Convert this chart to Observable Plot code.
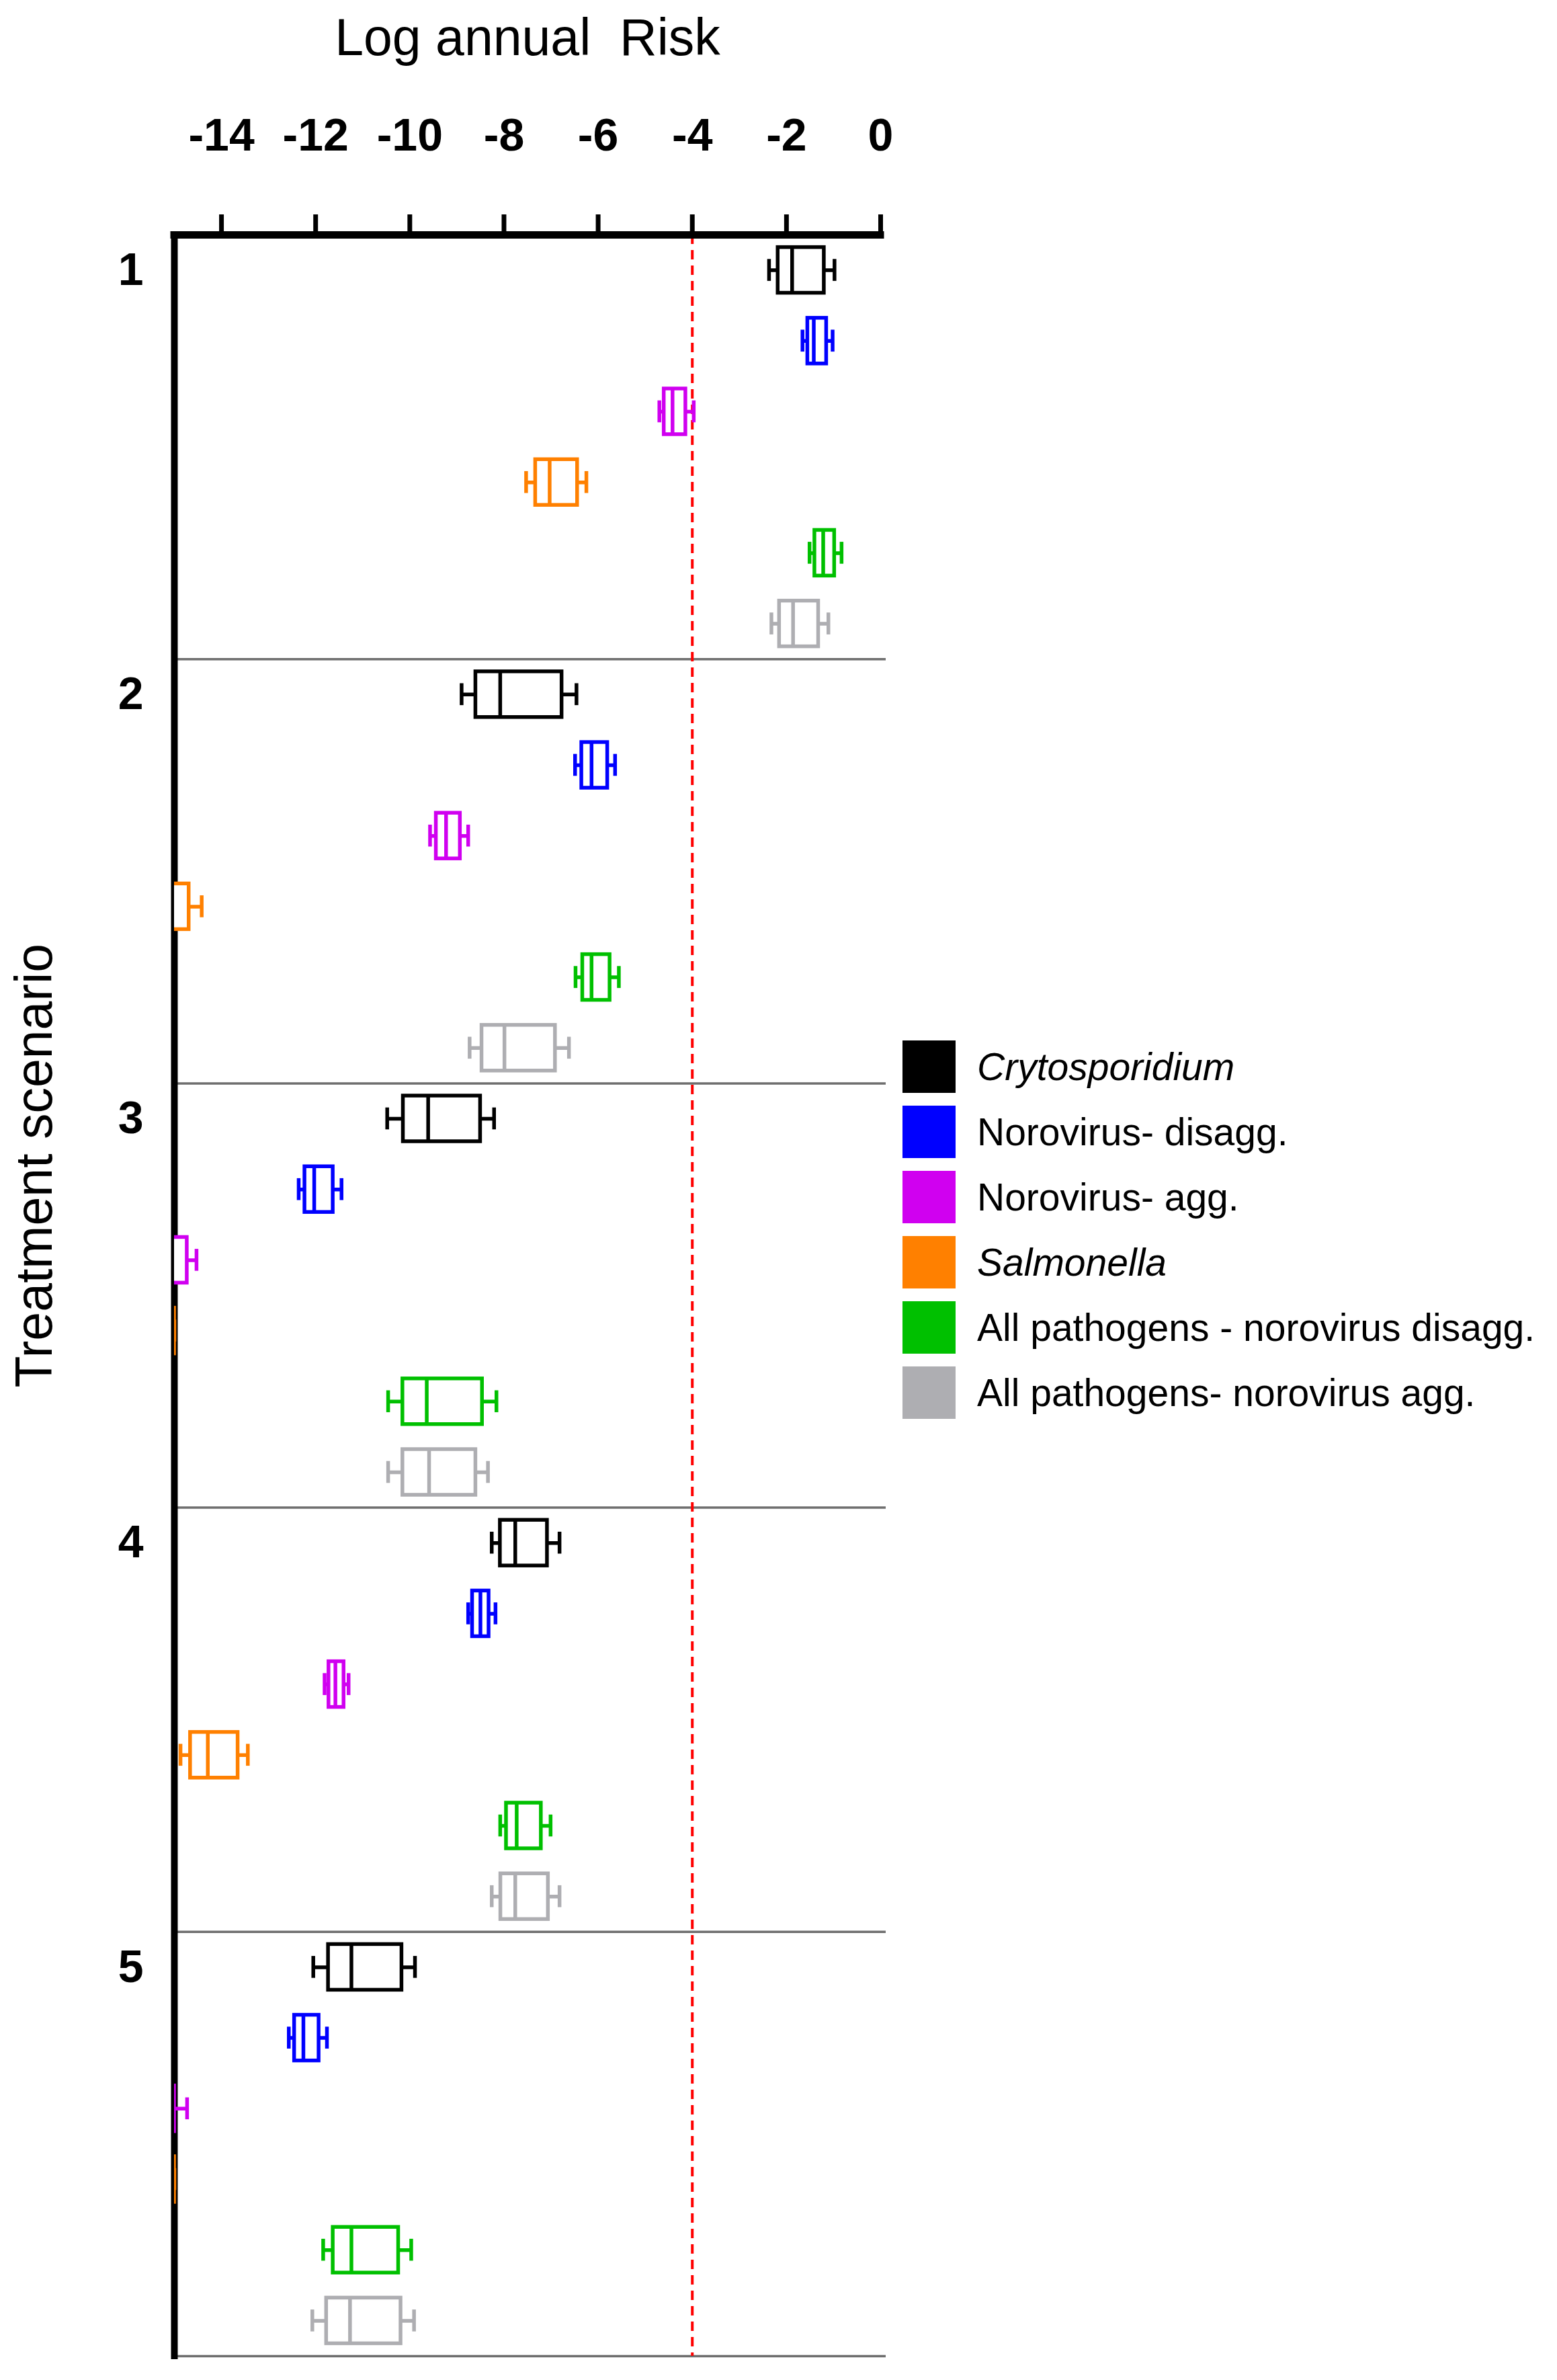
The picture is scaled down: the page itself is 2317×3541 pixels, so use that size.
<!DOCTYPE html>
<html><head><meta charset="utf-8">
<script src="https://cdn.jsdelivr.net/npm/d3@7"></script>
<script src="https://cdn.jsdelivr.net/npm/@observablehq/plot@0.6"></script>
<style>
body{margin:0;background:#fff;font-family:"Liberation Sans",Arial,sans-serif;}
#wrap{position:relative;width:2317px;height:3541px;}
#legend{position:absolute;left:1343px;top:1548px;}
.item{display:flex;align-items:center;height:78px;margin-bottom:19px;}
.sw{width:79px;height:78px;flex:none;}
.lab{margin-left:32px;font-size:57px;color:#000;white-space:nowrap;}
</style></head><body><div id="wrap"><div id="legend"></div></div>
<script>
// ---- data ----
const scenarios = ["1", "2", "3", "4", "5"];
const pathogens = ["Crytosporidium", "Norovirus- disagg.", "Norovirus- agg.", "Salmonella",
  "All pathogens - norovirus disagg.", "All pathogens- norovirus agg."];
const italicNames = ["Crytosporidium", "Salmonella"];
const colors = ["#000000", "#0000ff", "#d000f0", "#ff8000", "#00c000", "#aeaeb2"];
const xTicks = [-14, -12, -10, -8, -6, -4, -2, 0];
const xDomain = [-15, 0];
const riskThreshold = [-4];
// each entry per scenario: [whisker low, q1, median, q3, whisker high] (log annual risk)
const crypto = [
  [-2.37, -2.18, -1.88, -1.20, -0.98],
  [-8.90, -8.60, -8.08, -6.77, -6.46],
  [-10.48, -10.14, -9.61, -8.50, -8.21],
  [-8.26, -8.08, -7.76, -7.08, -6.82],
  [-12.05, -11.73, -11.24, -10.17, -9.89]];
const noroDisagg = [
  [-1.66, -1.55, -1.42, -1.15, -1.02],
  [-6.49, -6.35, -6.14, -5.80, -5.64],
  [-12.36, -12.23, -12.03, -11.63, -11.45],
  [-8.76, -8.67, -8.50, -8.32, -8.18],
  [-12.57, -12.45, -12.26, -11.93, -11.76]];
const noroAgg = [
  [-4.70, -4.60, -4.42, -4.14, -3.97],
  [-9.57, -9.44, -9.23, -8.93, -8.76],
  [-15.6, -15.3, -15.1, -14.73, -14.53],
  [-11.81, -11.72, -11.58, -11.40, -11.30],
  [-15.8, -15.5, -15.3, -15.0, -14.73]];
const salmonella = [
  [-7.53, -7.33, -7.03, -6.44, -6.25],
  [-15.6, -15.3, -15.05, -14.69, -14.42],
  [-16.2, -16.0, -15.6, -15.0, -15.0],
  [-14.87, -14.66, -14.29, -13.65, -13.44],
  [-16.4, -16.1, -15.8, -15.0, -15.0]];
const allDisagg = [
  [-1.51, -1.40, -1.22, -0.98, -0.83],
  [-6.48, -6.33, -6.14, -5.75, -5.56],
  [-10.46, -10.15, -9.64, -8.46, -8.16],
  [-8.08, -7.95, -7.73, -7.21, -7.01],
  [-11.84, -11.63, -11.24, -10.24, -9.97]];
const allAgg = [
  [-2.32, -2.15, -1.86, -1.32, -1.11],
  [-8.73, -8.47, -7.99, -6.91, -6.62],
  [-10.46, -10.15, -9.59, -8.60, -8.34],
  [-8.26, -8.07, -7.76, -7.06, -6.82],
  [-12.07, -11.77, -11.27, -10.19, -9.91]];

// ---- build table ----
const series = [crypto, noroDisagg, noroAgg, salmonella, allDisagg, allAgg];
const nP = pathogens.length;
const rows = [];
scenarios.forEach((s, si) => pathogens.forEach((p, pi) => {
  const [lo, q1, med, q3, hi] = series[pi][si];
  rows.push({scenario: s, pathogen: p, pos: si * nP + pi + 0.5, lo, q1, med, q3, hi});
}));
const nRows = scenarios.length * nP;
const groupTicks = scenarios.map((s, i) => i * nP + 0.5);
const separators = scenarios.map((s, i) => (i + 1) * nP);
const boxHalf = 0.323, capHalf = 0.155;
const SW = 5.5;

const chart = Plot.plot({
  width: 2317, height: 3541,
  marginLeft: 259, marginRight: 1007, marginTop: 349, marginBottom: 36,
  style: {fontFamily: "'Liberation Sans', Arial, sans-serif", background: "white", overflow: "visible"},
  x: {domain: xDomain, axis: null},
  y: {domain: [0, nRows], reverse: true, axis: null},
  color: {domain: pathogens, range: colors},
  marks: [
    Plot.ruleY(separators, {x1: xDomain[0], x2: xDomain[1], stroke: "#6e6e6e", strokeWidth: 3.5, insetRight: -8}),
    Plot.ruleX(riskThreshold, {y1: 0, y2: nRows, stroke: "#ff0000", strokeWidth: 4, strokeDasharray: "14,9"}),
    Plot.ruleY([0], {x1: xDomain[0], x2: xDomain[1], stroke: "#000", strokeWidth: 11, strokeLinecap: "square"}),
    Plot.ruleX([xDomain[0]], {y1: 0, y2: nRows, stroke: "#000", strokeWidth: 10, strokeLinecap: "square"}),
    Plot.axisX({anchor: "top", ticks: xTicks, tickFormat: d => String(d), tickSize: 31, tickPadding: 95,
      strokeWidth: 7, fontSize: 68, fontWeight: "bold", label: null}),
    Plot.axisX({anchor: "top", ticks: [], tickSize: 0, label: "Log annual\u00A0 Risk", labelAnchor: "center",
      labelOffset: 322, labelArrow: "none", fontSize: 77}),
    Plot.axisY({anchor: "left", ticks: groupTicks, tickFormat: d => scenarios[Math.floor(d / nP)],
      tickSize: 0, tickPadding: 46, fontSize: 68, fontWeight: "bold", label: null}),
    Plot.text(["Treatment scenario"], {text: d => d, frameAnchor: "left", rotate: -90, dx: -237, dy: 137,
      lineAnchor: "top", fontSize: 77}),
    // whiskers
    Plot.ruleY(rows, {x1: "lo", x2: "hi", y: "pos", stroke: "pathogen", strokeWidth: SW, clip: true}),
    Plot.ruleX(rows, {x: "lo", y1: d => d.pos - capHalf, y2: d => d.pos + capHalf, stroke: "pathogen", strokeWidth: SW, clip: true}),
    Plot.ruleX(rows, {x: "hi", y1: d => d.pos - capHalf, y2: d => d.pos + capHalf, stroke: "pathogen", strokeWidth: SW, clip: true}),
    // boxes
    Plot.rect(rows, {x1: "q1", x2: "q3", y1: d => d.pos - boxHalf, y2: d => d.pos + boxHalf,
      fill: "white", stroke: "pathogen", strokeWidth: SW, clip: true}),
    Plot.ruleX(rows, {x: "med", y1: d => d.pos - boxHalf, y2: d => d.pos + boxHalf, stroke: "pathogen", strokeWidth: SW, clip: true})
  ]
});
const wrap = document.getElementById("wrap");
wrap.insertBefore(chart, wrap.firstChild);

// legend
const legend = d3.select("#legend");
pathogens.forEach((p, i) => {
  const item = legend.append("div").attr("class", "item");
  item.append("div").attr("class", "sw").style("background", colors[i]);
  item.append("div").attr("class", "lab").style("font-style", italicNames.includes(p) ? "italic" : "normal").text(p);
});
</script></body></html>
